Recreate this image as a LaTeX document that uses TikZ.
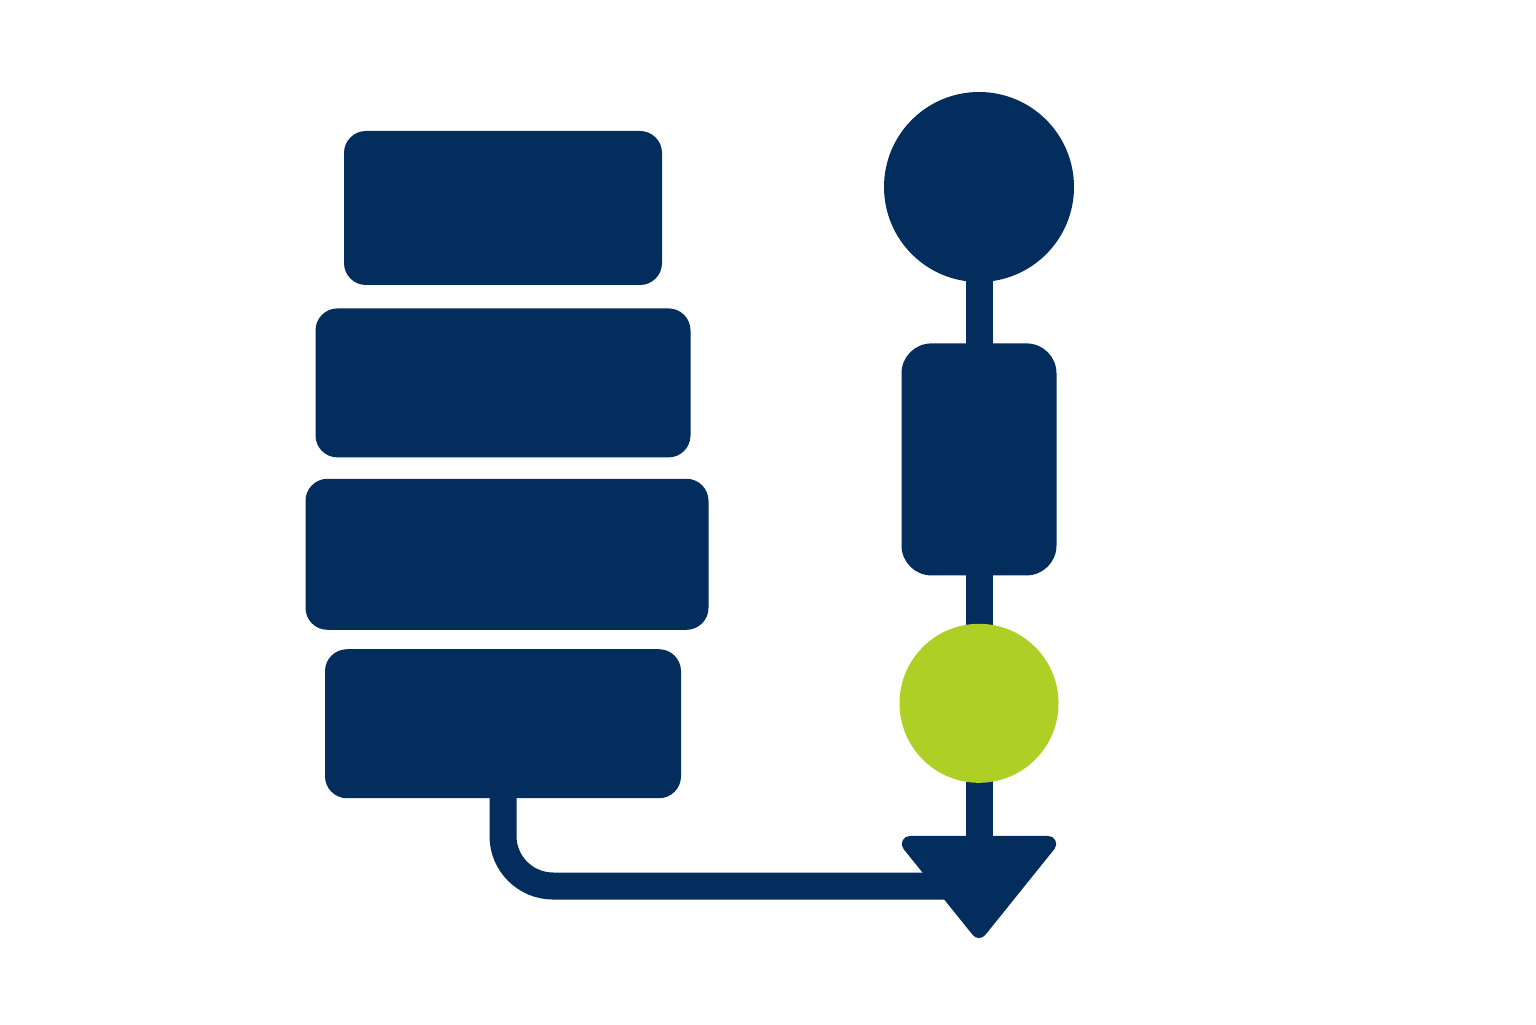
\documentclass[tikz,border=0pt]{standalone}
\usetikzlibrary{arrows.meta, positioning, backgrounds}

\definecolor{navy}{RGB}{3,45,92}
\definecolor{lime}{RGB}{174,207,38}

\begin{document}
\begin{tikzpicture}[
    node distance = 0.22cm,
    >={Triangle[width=1.68cm, length=1.07cm, line width=0.16cm, round]},
    layer/.style = {fill=navy, rectangle, rounded corners=0.22cm, inner sep=0pt, minimum height=1.5cm},
    stage/.style = {fill=navy, rectangle, rounded corners=0.3cm, inner sep=0pt, minimum width=1.55cm, minimum height=2.32cm},
    dot/.style = {circle, inner sep=0pt},
    link/.style = {draw=navy, line width=0.27cm}
]
\useasboundingbox (0,0) rectangle (15.36,10.24);

% Stack of layers (left)
\node[layer, minimum width=3.18cm, minimum height=1.54cm] (layer1) at (5.03,8.16) {};
\node[layer, minimum width=3.75cm, minimum height=1.49cm, below=of layer1] (layer2) {};
\node[layer, minimum width=4.03cm, minimum height=1.51cm, below=0.20cm of layer2, xshift=0.04cm] (layer3) {};
\node[layer, minimum width=3.56cm, minimum height=1.49cm, below=0.18cm of layer3, xshift=-0.04cm] (layer4) {};

% Pipeline (right)
\node[dot, fill=navy, minimum size=1.90cm] (source) at (9.79,8.37) {};
\node[stage, below=0.60cm of source] (stage) {};
\node[dot, fill=lime, minimum size=1.59cm, below=0.47cm of stage] (check) {};

% End points
\coordinate (tip) at (9.79,0.86);
\coordinate (join) at (9.79,1.38);

% Wiring, kept behind the nodes
\begin{pgfonlayer}{background}
\draw[link, rounded corners=0.5cm] (layer4.center) |- (join);
\draw[link] (source.center) -- (stage.center);
\draw[link] (stage.center) -- (check.center);
\draw[link, ->] (check.center) -- (tip);
\end{pgfonlayer}

\end{tikzpicture}
\end{document}
